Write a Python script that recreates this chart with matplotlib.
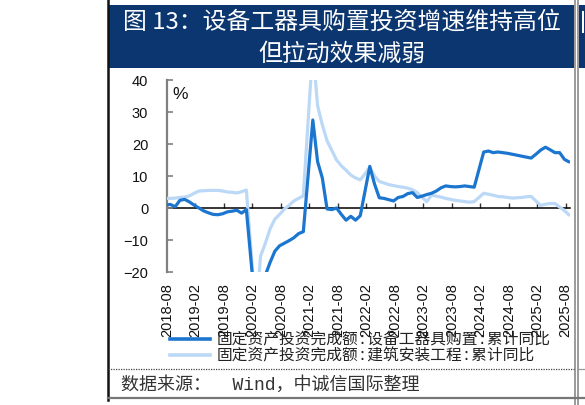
import numpy as np
import pandas as pd
import matplotlib
matplotlib.use("Agg")
import matplotlib.pyplot as plt
from matplotlib.lines import Line2D
from matplotlib.patches import Rectangle

# ---------------- data ----------------
months = pd.period_range("2018-07", "2025-08", freq="M")
equipment = [1.0, 1.1, 0.4, 2.4, 2.7, 1.9, 0.9, 0.0, -0.9, -1.5, -2.0, -2.1, -1.8, -1.2, -1.0, -0.7,
             -1.6, -0.5, -16.8, -33.0, -28.0, -21.0, -17.0, -13.5, -11.8, -11.0, -10.2, -9.3, -8.0,
             -7.4, 10.0, 27.5, 14.5, 9.4, -0.3, -0.5, 0.0, -2.0, -3.8, -2.6, -3.8, -2.4, 5.3, 13.0,
             7.5, 3.2, 3.0, 2.6, 2.2, 3.3, 3.6, 4.5, 4.8, 3.3, 3.7, 4.2, 4.6, 5.3, 6.3, 6.9, 6.7,
             6.6, 6.7, 6.9, 6.7, 6.5, 12.0, 17.5, 17.8, 17.3, 17.5, 17.3, 17.1, 16.8, 16.5, 16.2,
             15.9, 15.6, 16.8, 18.1, 19.0, 18.2, 17.3, 17.3, 15.2, 14.4]
construction = [3.0, 3.0, 3.1, 3.3, 3.4, 3.8, 4.6, 5.3, 5.4, 5.5, 5.5, 5.5, 5.3, 5.0, 4.9, 4.7,
                5.1, 5.6, -13.7, -33.0, -15.0, -11.0, -6.5, -3.5, -2.0, -0.3, 0.8, 2.2, 3.0, 3.8,
                27.0, 50.0, 32.0, 26.0, 21.0, 18.0, 15.0, 13.2, 11.8, 10.3, 9.4, 8.8, 10.7, 12.7,
                10.0, 8.3, 7.8, 7.3, 7.0, 6.7, 6.5, 6.2, 5.7, 4.8, 3.4, 2.0, 4.0, 3.7, 3.4, 3.0,
                2.7, 2.4, 2.2, 2.0, 1.8, 2.0, 3.3, 4.6, 4.3, 4.0, 3.6, 3.5, 3.3, 3.1, 3.2, 3.3,
                3.5, 3.6, 2.2, 0.8, 1.2, 1.4, 1.4, 0.3, -0.8, -2.2]
tick_labels = ["2018-08", "2019-02", "2019-08", "2020-02", "2020-08", "2021-02", "2021-08",
               "2022-02", "2022-08", "2023-02", "2023-08", "2024-02", "2024-08", "2025-02",
               "2025-08"]
label_eq = "固定资产投资完成额:设备工器具购置:累计同比"
label_con = "固定资产投资完成额:建筑安装工程:累计同比"
title_lines = ["图 13：设备工器具购置投资增速维持高位", "但拉动效果减弱"]
source = "数据来源：  Wind，中诚信国际整理"

# ---------------- style ----------------
W, H = 585, 405
CJK = ["Noto Sans CJK SC", "DejaVu Sans"]
MONO_CJK = ["Liberation Mono", "Noto Sans CJK SC", "DejaVu Sans"]
plt.rcParams["font.family"] = ["Liberation Sans", "DejaVu Sans"]
DARK = "#1C76D0"
LIGHT = "#BBD8F6"
NAVY = "#0C3670"

base = pd.Period("2018-08", freq="M")
def mpos(p):
    return (p - base).n

x = np.array([mpos(p) for p in months]) + 0.72
tick_pos = [mpos(pd.Period(t, freq="M")) for t in tick_labels]

fig = plt.figure(figsize=(W / 100, H / 100), dpi=100)

def fx(px):
    return px / W
def fy(py):
    return 1 - py / H

ax_l, ax_r, ax_t, ax_b = 167, 570, 80, 272
ax = fig.add_axes([fx(ax_l), fy(ax_b), fx(ax_r) - fx(ax_l), fy(ax_t) - fy(ax_b)])

ax.plot(x, construction, color=LIGHT, lw=2.3, solid_capstyle="round", zorder=3)
ax.plot(x, equipment, color=DARK, lw=2.3, solid_capstyle="round", zorder=4)

ax.set_xlim(0, 84.9)
ax.set_ylim(-20, 40)
ax.set_yticks(np.arange(-20, 41, 10))
for s in ["top", "right", "bottom"]:
    ax.spines[s].set_visible(False)
ax.spines["left"].set_color("#808080")
ax.spines["left"].set_linewidth(1.6)
ax.tick_params(axis="y", direction="in", length=4, width=1.2, color="#808080",
               pad=13.5, labelsize=10.5, labelcolor="#111111")
ax.set_xticks(tick_pos)
ax.set_xticklabels(tick_labels, rotation=90, fontsize=10.5, color="#111111")
ax.tick_params(axis="x", length=0, pad=8)

sec = ax.secondary_xaxis(0, transform=ax.transData)
sec.set_xticks(tick_pos)
sec.set_xticklabels([])
sec.tick_params(axis="x", direction="in", length=3.5, width=1.0, color="#333333")
sec.spines["bottom"].set_color("black")
sec.spines["bottom"].set_linewidth(1.1)
for s in ["top", "left", "right"]:
    sec.spines[s].set_visible(False)

ax.text(0.032, 0.925, "%", transform=ax.transAxes, fontsize=12.5, ha="center", va="center",
        color="#111111")

handles = [Line2D([], [], color=DARK, lw=2.6), Line2D([], [], color=LIGHT, lw=2.6)]
leg = fig.legend(handles, [label_eq, label_con], loc="upper left",
                 bbox_to_anchor=(fx(170), fy(332)), frameon=False, borderaxespad=0,
                 borderpad=0, handlelength=2.55, handletextpad=0.45, labelspacing=0.1,
                 prop={"family": MONO_CJK, "size": 11.3})
for t in leg.get_texts():
    t.set_color("#222222")

# ---------------- frame / banner ----------------
fig.add_artist(Rectangle((fx(109), fy(68)), fx(574) - fx(109), fy(5) - fy(68),
                         transform=fig.transFigure, color=NAVY, lw=0, zorder=0))
fig.add_artist(Rectangle((fx(579), fy(68)), fx(585) - fx(579), fy(5) - fy(68),
                         transform=fig.transFigure, color=NAVY, lw=0, zorder=0))
fig.add_artist(Rectangle((fx(582), fy(33)), fx(584) - fx(582), fy(11) - fy(33),
                         transform=fig.transFigure, color="white", lw=0, zorder=1))
for i, line in enumerate(title_lines):
    fig.text(fx(342), fy(22 + 32 * i), line, ha="center", va="center", color="white",
             fontsize=17.2, family=CJK)

fig.add_artist(Line2D([fx(108), fx(108)], [fy(0), fy(400)], transform=fig.transFigure,
                      color="#111111", lw=1.8))
fig.add_artist(Line2D([fx(575), fx(575)], [fy(0), fy(405)], transform=fig.transFigure,
                      color="#8a8a8a", lw=1.2))
fig.add_artist(Line2D([fx(578), fx(578)], [fy(0), fy(405)], transform=fig.transFigure,
                      color="#8a8a8a", lw=1.2))
fig.add_artist(Line2D([fx(108), fx(574)], [fy(369), fy(369)], transform=fig.transFigure,
                      color="#444444", lw=0.9, linestyle=(0, (1, 1))))
fig.add_artist(Line2D([fx(579), fx(585)], [fy(369), fy(369)], transform=fig.transFigure,
                      color="#999999", lw=0.9))
fig.add_artist(Line2D([fx(108), fx(585)], [fy(398), fy(398)], transform=fig.transFigure,
                      color="#777777", lw=1.6))

fig.text(fx(121), fy(385), source, ha="left", va="center", fontsize=13, family=MONO_CJK,
         color="#333333")

fig.savefig("out.png", dpi=100)
